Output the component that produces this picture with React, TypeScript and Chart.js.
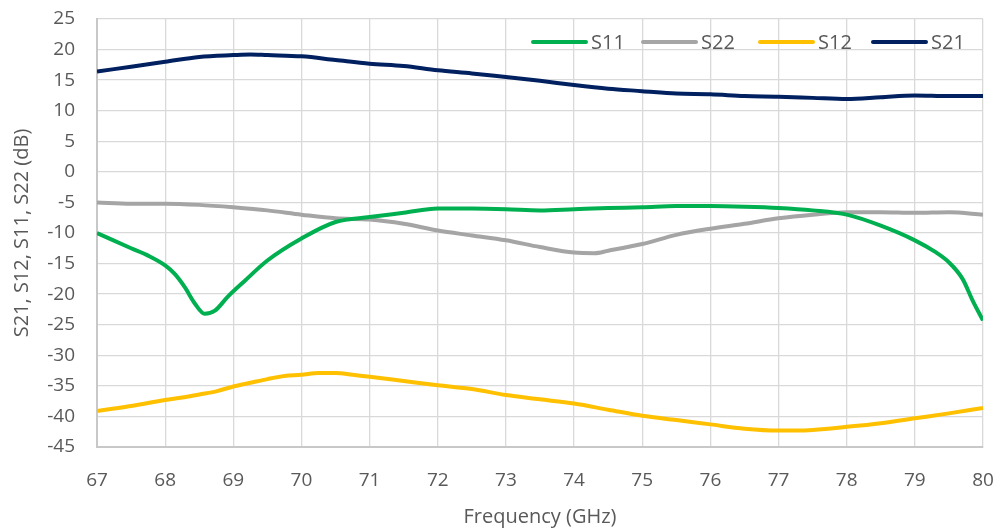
import React, { useEffect, useRef } from "react";
import { Chart, registerables } from "chart.js";

Chart.register(...registerables);

const seriesNames = ["S11", "S22", "S12", "S21"];

const freqS11 = [67, 67.5, 67.75, 68, 68.14, 68.29, 68.44, 68.58, 68.73, 68.92, 69.17, 69.5, 70, 70.5, 71, 71.5, 72, 72.5, 73, 73.5, 74, 74.5, 75, 75.5, 76, 76.5, 77, 77.5, 78, 78.5, 79, 79.3, 79.5, 79.7, 79.85, 80];
const valS11 = [-10, -12.5, -13.7, -15.3, -16.7, -18.9, -21.6, -23.2, -22.7, -20.4, -17.8, -14.5, -10.9, -8.2, -7.4, -6.7, -6.0, -6.0, -6.1, -6.3, -6.1, -5.9, -5.8, -5.6, -5.6, -5.7, -5.9, -6.3, -7.0, -8.8, -11.2, -13.1, -14.8, -17.5, -21.1, -24.3];

const freqS22 = [67, 67.5, 68, 68.5, 69, 69.5, 70, 70.5, 71, 71.5, 72, 72.5, 73, 73.5, 74, 74.3, 74.5, 75, 75.5, 76, 76.5, 77, 77.5, 78, 78.5, 79, 79.5, 80];
const valS22 = [-5.0, -5.2, -5.2, -5.4, -5.8, -6.3, -7.0, -7.6, -7.8, -8.5, -9.6, -10.4, -11.2, -12.3, -13.2, -13.3, -12.9, -11.8, -10.3, -9.3, -8.5, -7.6, -7.0, -6.6, -6.6, -6.7, -6.6, -7.0];

const freqS12 = [67, 67.25, 67.5, 68, 68.25, 68.5, 68.75, 69, 69.25, 69.5, 69.75, 70, 70.25, 70.5, 70.75, 71, 71.5, 72, 72.5, 73, 73.5, 74, 74.5, 75, 75.5, 76, 76.5, 77, 77.3, 77.5, 78, 78.5, 79, 79.5, 80];
const valS12 = [-39.1, -38.7, -38.3, -37.3, -36.9, -36.4, -35.9, -35.1, -34.5, -33.9, -33.4, -33.2, -32.9, -32.9, -33.2, -33.5, -34.2, -34.9, -35.5, -36.5, -37.2, -37.9, -38.9, -39.9, -40.6, -41.3, -42.0, -42.3, -42.3, -42.2, -41.7, -41.1, -40.3, -39.5, -38.6];

const freqS21 = [67, 67.5, 68, 68.5, 69, 69.25, 69.5, 70, 70.5, 71, 71.5, 72, 72.5, 73, 73.5, 74, 74.5, 75, 75.5, 76, 76.5, 77, 77.5, 78, 78.5, 79, 79.5, 80];
const valS21 = [16.4, 17.2, 18.0, 18.8, 19.1, 19.2, 19.1, 18.9, 18.3, 17.7, 17.3, 16.6, 16.1, 15.5, 14.9, 14.2, 13.6, 13.2, 12.8, 12.7, 12.4, 12.3, 12.1, 11.9, 12.2, 12.5, 12.4, 12.4];

const xMin = 67;
const xMax = 80;
const yMin = -45;
const yMax = 25;
const xStep = 1;
const yStep = 5;
const xTitle = "Frequency (GHz)";
const yTitle = "S21, S12, S11, S22 (dB)";

const colors = ["#00b050", "#a5a5a5", "#ffc000", "#002060"];
const FONT = "'Open Sans', sans-serif";
const TEXT = "#595959";

const toPoints = (xs: number[], ys: number[]) => xs.map((x, i) => ({ x, y: ys[i] }));

const legendPlugin = {
  id: "customLegend",
  afterDatasetsDraw(chart: any) {
    const ctx = chart.ctx;
    const starts = [533, 643, 760, 873];
    const y = 42;
    ctx.save();
    ctx.font = `20px ${FONT}`;
    ctx.textBaseline = "middle";
    ctx.textAlign = "left";
    chart.data.datasets.forEach((ds: any, i: number) => {
      const x0 = starts[i];
      ctx.strokeStyle = ds.borderColor;
      ctx.lineWidth = 4;
      ctx.lineCap = "round";
      ctx.beginPath();
      ctx.moveTo(x0, y);
      ctx.lineTo(x0 + 53, y);
      ctx.stroke();
      ctx.fillStyle = TEXT;
      ctx.fillText(ds.label, x0 + 58, y + 1);
    });
    ctx.restore();
  },
};

export default function App() {
  const ref = useRef<HTMLCanvasElement>(null);
  useEffect(() => {
    if (!ref.current) return;
    const series = [
      toPoints(freqS11, valS11),
      toPoints(freqS22, valS22),
      toPoints(freqS12, valS12),
      toPoints(freqS21, valS21),
    ];
    const chart = new Chart(ref.current, {
      type: "line",
      data: {
        datasets: series.map((d, i) => ({
          label: seriesNames[i],
          data: d,
          borderColor: colors[i],
          backgroundColor: colors[i],
          borderWidth: 4,
          pointRadius: 0,
          cubicInterpolationMode: "monotone" as const,
          fill: false,
        })),
      },
      plugins: [legendPlugin],
      options: {
        responsive: false,
        animation: false,
        devicePixelRatio: 1,
        layout: { padding: { left: 0, right: 14, top: 19, bottom: 0 } },
        plugins: { legend: { display: false }, tooltip: { enabled: false } },
        scales: {
          x: {
            type: "linear",
            min: xMin,
            max: xMax,
            ticks: { stepSize: xStep, color: TEXT, font: { family: FONT, size: 19 }, padding: 22, maxRotation: 0 },
            grid: { color: "#d9d9d9", lineWidth: 1.3, drawTicks: false },
            border: { color: "#c8c8c8", width: 2 },
            title: { display: true, text: xTitle, color: TEXT, font: { family: FONT, size: 20 }, padding: { top: 0, bottom: 3 } },
            afterFit: (s: any) => { s.height = 85; s.paddingLeft = 0; s.paddingRight = 0; },
          },
          y: {
            type: "linear",
            min: yMin,
            max: yMax,
            ticks: { stepSize: yStep, color: TEXT, font: { family: FONT, size: 19 }, padding: 22 },
            grid: { color: "#d9d9d9", lineWidth: 1.3, drawTicks: false },
            border: { color: "#c8c8c8", width: 2 },
            title: { display: true, text: yTitle, color: TEXT, font: { family: FONT, size: 20 }, padding: { top: 10, bottom: 0 } },
            afterFit: (s: any) => { s.width = 97; s.paddingTop = 0; s.paddingBottom = 0; },
          },
        },
      },
    });
    return () => chart.destroy();
  }, []);
  return (
    <div style={{ position: "fixed", left: 0, top: 0, width: 997, height: 532, background: "#fff" }}>
      <canvas ref={ref} width={997} height={532} style={{ width: 997, height: 532, display: "block" }} />
    </div>
  );
}
